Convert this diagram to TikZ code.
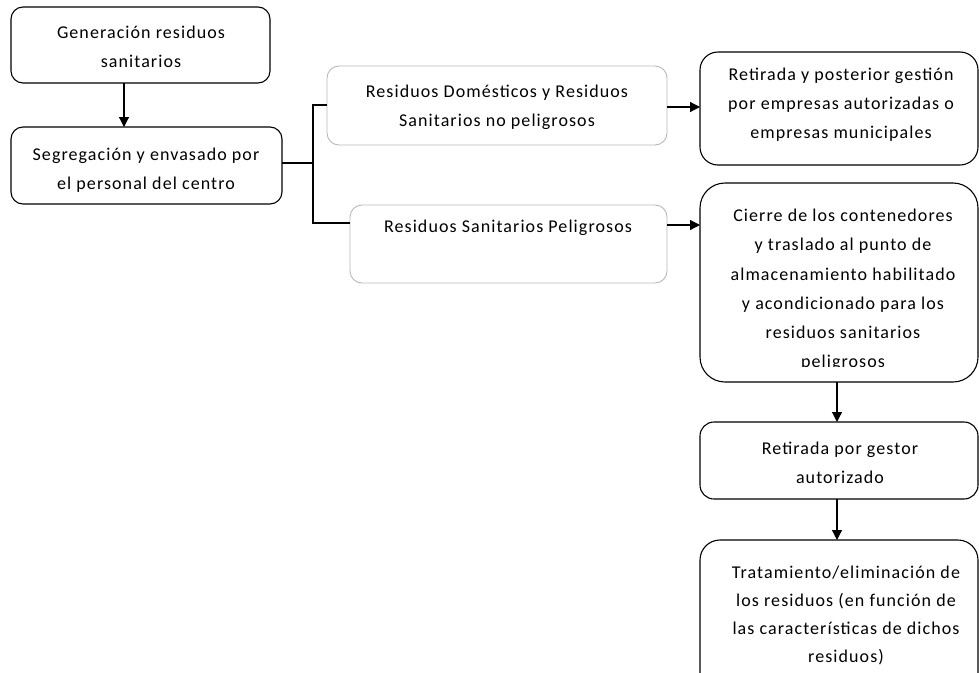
\documentclass[tikz,border=0pt]{standalone}
\usepackage{fontspec}
\setmainfont{Carlito}[LetterSpace=6]
\usetikzlibrary{arrows.meta}
\tikzset{
  box/.style={draw=black, line width=1.1pt, rounded corners=12pt},
  softbox/.style={draw=black!28, line width=0.9pt, rounded corners=12pt},
  txt/.style={align=center, font=\fontsize{18}{29}\selectfont, inner sep=0pt},
  link/.style={draw=black, line width=1.2pt},
  arr/.style={link, -{Triangle[length=10pt,width=10pt]}}
}
\begin{document}
\begin{tikzpicture}[x=1pt,y=-1pt]
\clip (0,0) rectangle (979,672);
\useasboundingbox (0,0) rectangle (979,672);
% boxes
\draw[box] (11,7) rectangle (270,83);
\coordinate (b1s) at (124,83);
\draw[box] (11,127) rectangle (282,204);
\coordinate (b2n) at (124,127);
\coordinate (b2e) at (282,163);
\draw[softbox] (327,66) rectangle (667,145);
\coordinate (b3w) at (327,105);
\coordinate (b3e) at (667,107);
\draw[softbox] (350,205) rectangle (667,283);
\coordinate (b4w) at (350,223);
\coordinate (b4e) at (667,225);
\draw[box, rounded corners=18pt] (700,52) rectangle (978,165);
\coordinate (b5w) at (700,107);
\draw[box, rounded corners=25pt] (700,183) rectangle (978,382);
\coordinate (b6w) at (700,225);
\coordinate (b6s) at (837,382);
\draw[box, rounded corners=14pt] (700,422) rectangle (978,499);
\coordinate (b7n) at (837,422);
\coordinate (b7s) at (837,499);
\draw[box, rounded corners=20pt] (700,540) rectangle (978,720);
\coordinate (b8n) at (837,540);
% texts
\node[txt] (t1) at (141,46.5) {Generación residuos\\sanitarios};
\node[txt] (t2) at (146,170) {Segregación y envasado por\\el personal del centro};
\node[txt] (t3) at (497,107) {Residuos Domésticos y Residuos\\Sanitarios no peligrosos};
\node[txt] (t4) at (508,228) {Residuos Sanitarios Peligrosos};
\node[txt] (t5) at (841,105) {Retirada y posterior gestión\\por empresas autorizadas o\\empresas municipales};
\begin{scope}
\clip (700,183) rectangle (978,366);
\node[txt, font=\fontsize{18}{29.2}\selectfont] (t6) at (843,290) {Cierre de los contenedores\\y traslado al punto de\\almacenamiento habilitado\\y acondicionado para los\\residuos  sanitarios\\peligrosos};
\end{scope}
\node[txt] (t7) at (840,463) {Retirada por gestor\\autorizado};
\node[txt, font=\fontsize{18}{28}\selectfont] (t8) at (846,615) {Tratamiento/eliminación de\\los residuos  (en función de\\las características de dichos\\residuos)};
% connectors
\coordinate (j) at (313,163);
\coordinate (jt) at (313,105);
\coordinate (jb) at (313,223);
\draw[arr] (b1s) -- (b2n);
\draw[link] (b2e) -- (j);
\draw[link] (b3w) -- (jt) -- (jb) -- (b4w);
\draw[arr] (b3e) -- (b5w);
\draw[arr] (b4e) -- (b6w);
\draw[arr] (b6s) -- (b7n);
\draw[arr] (b7s) -- (b8n);
\end{tikzpicture}
\end{document}
